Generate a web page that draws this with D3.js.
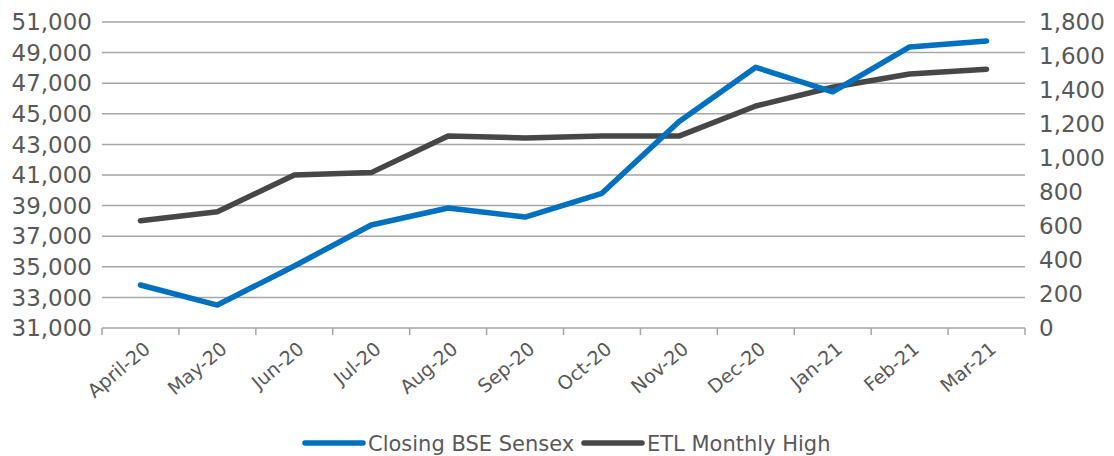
<!DOCTYPE html>
<html>
<head>
<meta charset="utf-8">
<script src="https://cdn.jsdelivr.net/npm/d3@7"></script>
<style>
  html, body { margin: 0; padding: 0; background: #fff; }
  svg { display: block; }
  text { font-family: "DejaVu Sans", sans-serif; fill: #595959; }
</style>
</head>
<body>
<svg id="chart" width="1114" height="456"></svg>
<script>
// Months on the category axis
const months = ["April-20", "May-20", "Jun-20", "Jul-20", "Aug-20", "Sep-20",
                "Oct-20", "Nov-20", "Dec-20", "Jan-21", "Feb-21", "Mar-21"];
// Closing BSE Sensex (left axis)
const sensex = [33810, 32500, 35050, 37730, 38840, 38250,
                39800, 44480, 48040, 46440, 49370, 49760];
// ETL monthly high (right axis)
const etlHigh = [631, 684, 900, 914, 1129, 1118,
                 1129, 1129, 1306, 1416, 1494, 1522];
// Axis ticks
const leftTicks = [31000, 33000, 35000, 37000, 39000, 41000, 43000, 45000, 47000, 49000, 51000];
const rightTicks = [0, 200, 400, 600, 800, 1000, 1200, 1400, 1600, 1800];
const seriesNames = ["Closing BSE Sensex", "ETL Monthly High"];
const seriesColors = ["#0070C0", "#474747"];

const svg = d3.select("#chart");
const m = { left: 102, right: 1025, top: 22, bottom: 328 };

const x = d3.scaleBand().domain(months).range([m.left, m.right]).padding(0);
const yL = d3.scaleLinear().domain([31000, 51000]).range([m.bottom, m.top]);
const yR = d3.scaleLinear().domain([0, 1800]).range([m.bottom, m.top]);
const fmt = d3.format(",");

// Horizontal gridlines at left-axis ticks
svg.append("g")
  .selectAll("line")
  .data(leftTicks.slice(1))
  .join("line")
  .attr("x1", m.left).attr("x2", m.right)
  .attr("y1", d => yL(d)).attr("y2", d => yL(d))
  .attr("stroke", "#a6a6a6").attr("stroke-width", 1.5);

// Left axis labels
svg.append("g")
  .selectAll("text")
  .data(leftTicks)
  .join("text")
  .attr("x", 92).attr("y", d => yL(d))
  .attr("dy", "0.36em")
  .attr("text-anchor", "end")
  .attr("font-size", 23)
  .text(d => fmt(d));

// Right axis labels
svg.append("g")
  .selectAll("text")
  .data(rightTicks)
  .join("text")
  .attr("x", 1039).attr("y", d => yR(d))
  .attr("dy", "0.36em")
  .attr("text-anchor", "start")
  .attr("font-size", 23)
  .text(d => fmt(d));

// Category axis: baseline with tick marks between months
const xAxis = svg.append("g");
xAxis.append("line")
  .attr("x1", m.left).attr("x2", m.right)
  .attr("y1", m.bottom).attr("y2", m.bottom)
  .attr("stroke", "#a6a6a6").attr("stroke-width", 1.5);
const bounds = months.map(d => x(d)).concat([x(months[months.length - 1]) + x.bandwidth()]);
xAxis.selectAll("line.tick")
  .data(bounds)
  .join("line")
  .attr("class", "tick")
  .attr("x1", d => d).attr("x2", d => d)
  .attr("y1", m.bottom).attr("y2", m.bottom + 7)
  .attr("stroke", "#a6a6a6").attr("stroke-width", 1.5);
xAxis.selectAll("text")
  .data(months)
  .join("text")
  .attr("transform", d => `translate(${x(d) + x.bandwidth() / 2 + 11},${m.bottom + 23}) rotate(-40)`)
  .attr("text-anchor", "end")
  .attr("font-size", 19)
  .text(d => d);

// Series lines
const lineL = d3.line().x((d, i) => x(months[i]) + x.bandwidth() / 2).y(d => yL(d));
const lineR = d3.line().x((d, i) => x(months[i]) + x.bandwidth() / 2).y(d => yR(d));

svg.append("path")
  .datum(etlHigh)
  .attr("d", lineR)
  .attr("fill", "none")
  .attr("stroke", seriesColors[1])
  .attr("stroke-width", 5.5)
  .attr("stroke-linejoin", "round")
  .attr("stroke-linecap", "round");

svg.append("path")
  .datum(sensex)
  .attr("d", lineL)
  .attr("fill", "none")
  .attr("stroke", seriesColors[0])
  .attr("stroke-width", 5.5)
  .attr("stroke-linejoin", "round")
  .attr("stroke-linecap", "round");

// Legend
const legendItems = [
  { name: seriesNames[0], color: seriesColors[0], x: 305 },
  { name: seriesNames[1], color: seriesColors[1], x: 584 }
];
const lg = svg.append("g");
legendItems.forEach(it => {
  lg.append("line")
    .attr("x1", it.x).attr("x2", it.x + 58)
    .attr("y1", 443).attr("y2", 443)
    .attr("stroke", it.color).attr("stroke-width", 5.5)
    .attr("stroke-linecap", "round");
  lg.append("text")
    .attr("x", it.x + 63).attr("y", 443)
    .attr("dy", "0.36em")
    .attr("font-size", 21)
    .text(it.name);
});
</script>
</body>
</html>
